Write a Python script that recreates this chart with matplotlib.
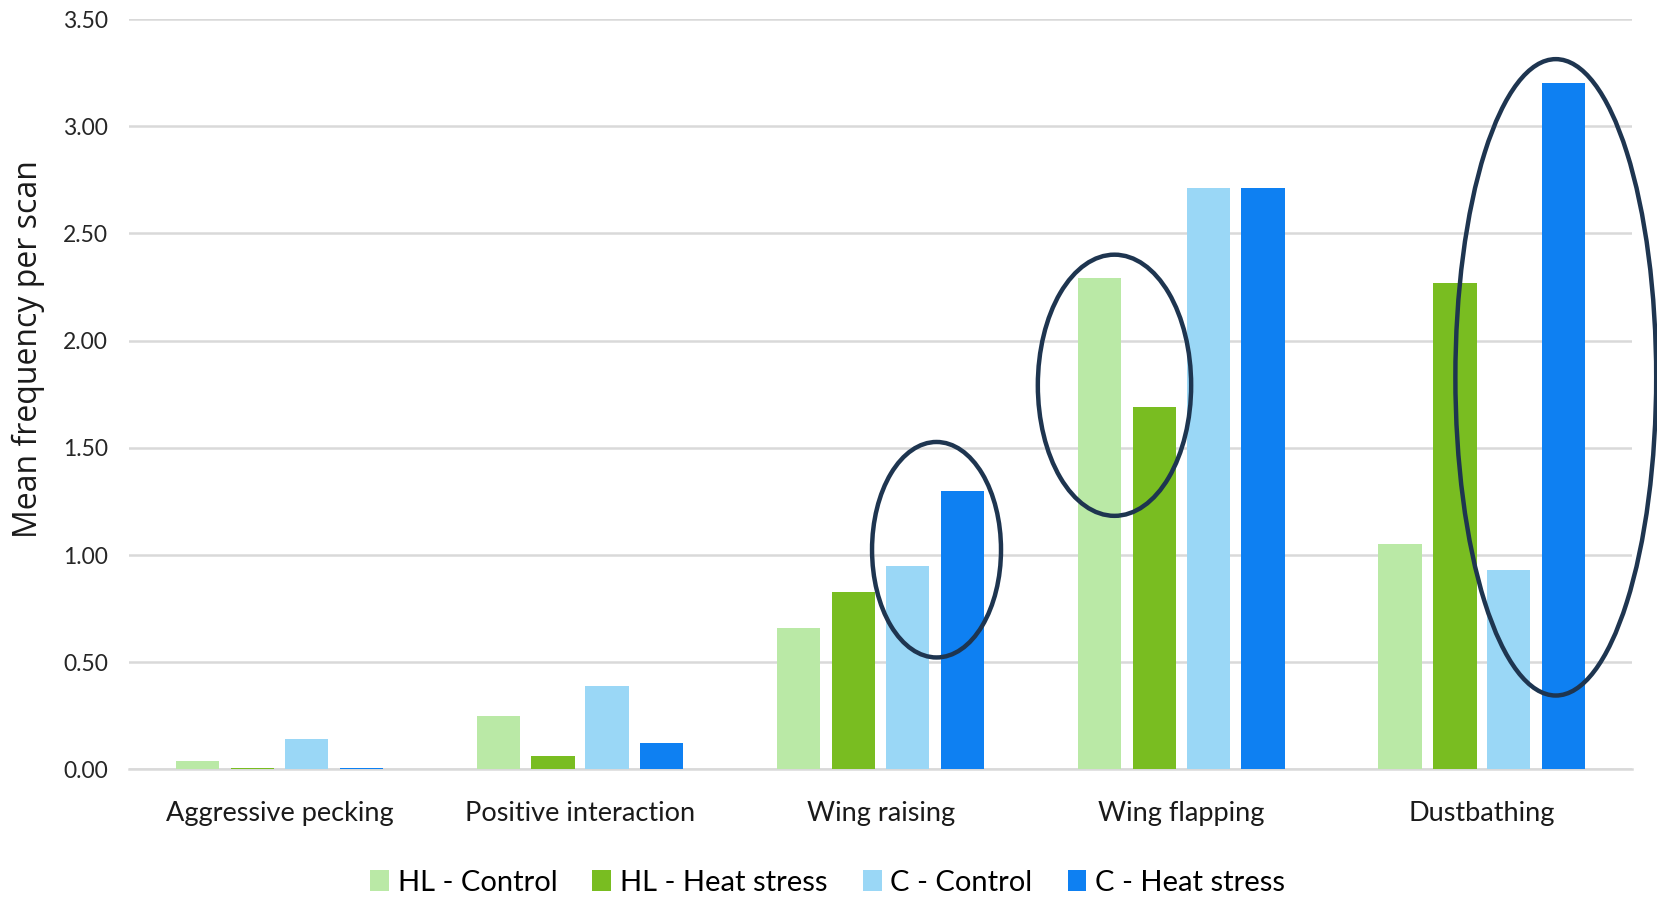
import matplotlib
matplotlib.use("Agg")
import matplotlib.pyplot as plt
from matplotlib.patches import Ellipse, Patch
import numpy as np

categories = ["Aggressive pecking", "Positive interaction", "Wing raising",
              "Wing flapping", "Dustbathing"]
series_names = ["HL - Control", "HL - Heat stress", "C - Control", "C - Heat stress"]
hl_control = [0.04, 0.25, 0.66, 2.29, 1.05]
hl_heat = [0.005, 0.065, 0.83, 1.69, 2.27]
c_control = [0.14, 0.39, 0.95, 2.71, 0.93]
c_heat = [0.005, 0.125, 1.30, 2.71, 3.20]
y_ticks = [0.0, 0.5, 1.0, 1.5, 2.0, 2.5, 3.0, 3.5]

colors = ["#BAE9A6", "#79BD21", "#9AD7F6", "#0E80F2"]
ring_color = "#1E3550"

plt.rcParams["font.family"] = ["Lato", "DejaVu Sans"]

fig = plt.figure(figsize=(16.57, 8.98), dpi=100)
ax = fig.add_axes([0.0779, 0.1431, 0.985 - 0.0779, 0.9788 - 0.1431])

x = np.arange(len(categories))
offsets = [-0.272, -0.0896, 0.0896, 0.272]
bar_w = 0.144
all_series = [hl_control, hl_heat, c_control, c_heat]
for vals, off, col in zip(all_series, offsets, colors):
    ax.bar(x + off, vals, width=bar_w, color=col, zorder=3)

ax.set_xlim(-0.5, 4.5)
ax.set_ylim(0, 3.5)
ax.set_yticks(y_ticks)
ax.set_yticklabels([f"{v:.2f}" for v in y_ticks], fontsize=16.5, color="#262626")
ax.set_xticks(x)
ax.set_xticklabels(categories, fontsize=19.5, color="#1a1a1a")
ax.tick_params(axis="both", length=0)
ax.tick_params(axis="x", pad=23)
ax.tick_params(axis="y", pad=15)
ax.grid(axis="y", color="#D9D9D9", linewidth=1.8, zorder=0)
for s in ["top", "right", "left"]:
    ax.spines[s].set_visible(False)
ax.spines["bottom"].set_color("#D9D9D9")
ax.spines["bottom"].set_linewidth(1.8)

ax.set_ylabel("Mean frequency per scan", fontsize=23, family=["Open Sans", "DejaVu Sans"],
              color="#1a1a1a")
ax.yaxis.set_label_coords(-0.056, 0.5606)

# Highlight rings around the compared bars
rings = [
    (2.186, 1.025, 0.429, 1.005),
    (2.778, 1.792, 0.510, 1.218),
    (4.246, 1.829, 0.668, 2.968),
]
for cx, cy, w, h in rings:
    ax.add_patch(Ellipse((cx, cy), w, h, fill=False, edgecolor=ring_color,
                         linewidth=3.2, zorder=5, clip_on=False))

handles = [Patch(facecolor=c, edgecolor="none") for c in colors]
fig.legend(handles, series_names, loc="center", bbox_to_anchor=(0.4995, 0.017),
           ncol=4, frameon=False, fontsize=21, handlelength=0.65, handleheight=0.75,
           handletextpad=0.3, columnspacing=1.2)

fig.savefig("out.png", dpi=100)
